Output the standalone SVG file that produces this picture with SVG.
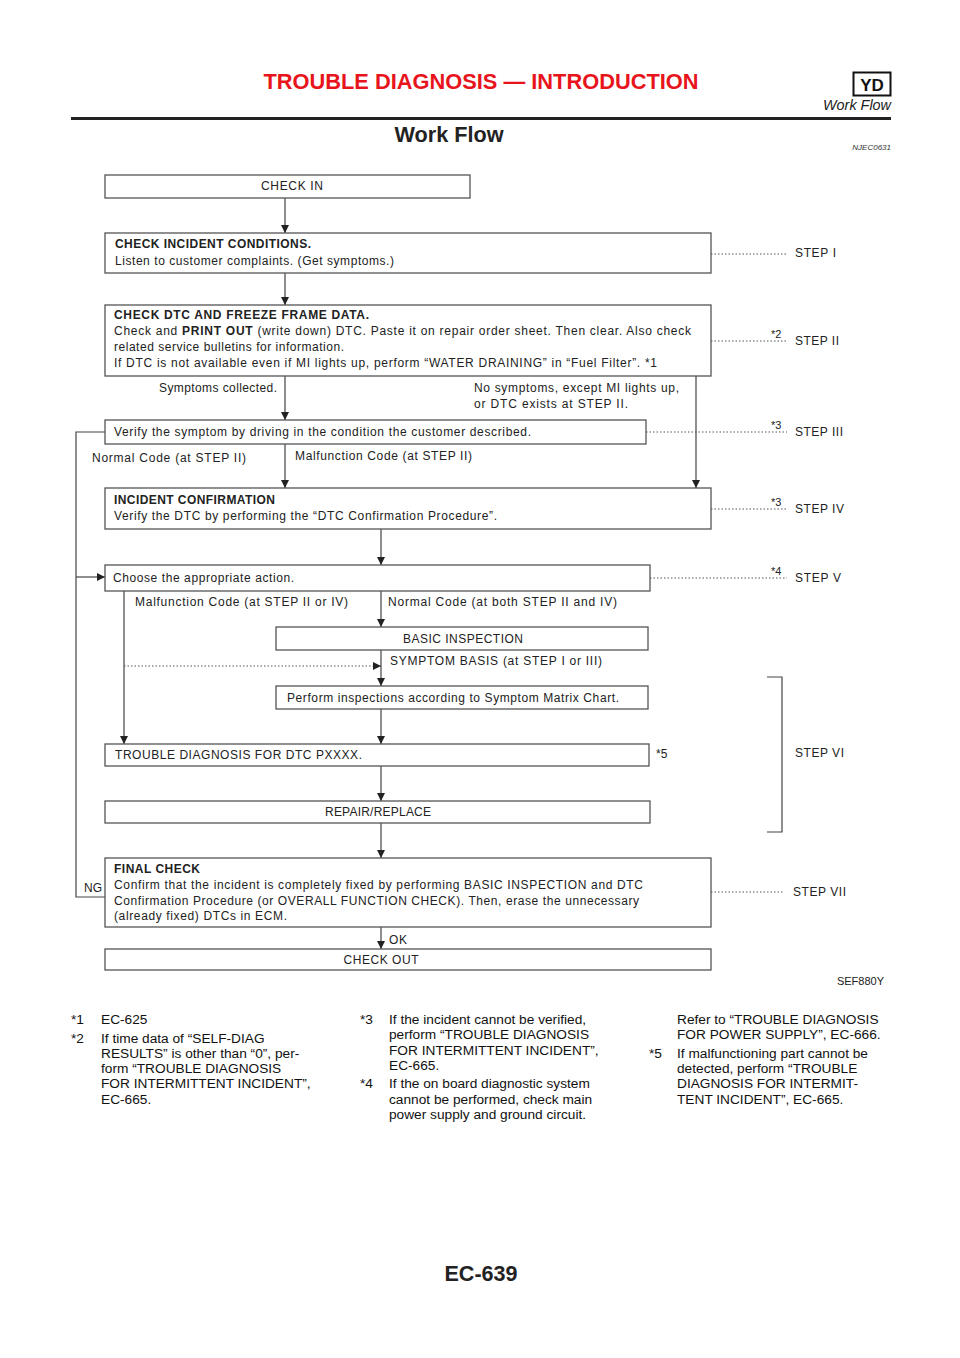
<svg xmlns="http://www.w3.org/2000/svg" width="960" height="1358" viewBox="0 0 960 1358">
<style>
  text { font-family: "Liberation Sans", Arial, sans-serif; fill: #222; }
  .t { font-size: 12px; }
  .b { font-size: 12px; font-weight: bold; }
  .fn { font-size: 13.7px; fill: #111; }
  .box { fill: #fff; stroke: #555; stroke-width: 1.3; }
  .ln { stroke: #444; stroke-width: 1.2; fill: none; }
  .dot { stroke: #555; stroke-width: 1; stroke-dasharray: 1.5 2; fill: none; }
  .sup { font-size: 11px; }
</style>
<defs>
  <marker id="ah" markerUnits="userSpaceOnUse" markerWidth="8" markerHeight="8" refX="8" refY="4" orient="auto">
    <path d="M0,0 L8,4 L0,8 z" fill="#222"/>
  </marker>
</defs>
<rect width="960" height="1358" fill="#fff"/>

<!-- header -->
<g id="header">
  <text x="481" y="89" text-anchor="middle" font-size="22" font-weight="bold" style="fill:#e8141c" textLength="435" lengthAdjust="spacingAndGlyphs">TROUBLE DIAGNOSIS — INTRODUCTION</text>
  <rect x="853.5" y="72.5" width="37" height="23" fill="none" stroke="#111" stroke-width="2"/>
  <text x="872" y="90.5" text-anchor="middle" font-size="17" font-weight="bold" style="fill:#111">YD</text>
  <text x="891" y="110" text-anchor="end" font-size="14" font-style="italic" style="fill:#222" textLength="68" lengthAdjust="spacingAndGlyphs">Work Flow</text>
  <line x1="71" y1="118.5" x2="891" y2="118.5" stroke="#222" stroke-width="3"/>
  <text x="449" y="142" text-anchor="middle" font-size="22" font-weight="bold" style="fill:#222" textLength="109" lengthAdjust="spacingAndGlyphs">Work Flow</text>
  <text x="891" y="150" text-anchor="end" font-size="8" font-style="italic" style="fill:#333">NJEC0631</text>
</g>

<!-- connectors -->
<g id="connectors">
  <line class="ln" x1="285" y1="198" x2="285" y2="233" marker-end="url(#ah)"/>
  <line class="ln" x1="285" y1="273" x2="285" y2="305" marker-end="url(#ah)"/>
  <line class="ln" x1="285" y1="376" x2="285" y2="420" marker-end="url(#ah)"/>
  <line class="ln" x1="696" y1="376" x2="696" y2="488" marker-end="url(#ah)"/>
  <line class="ln" x1="285" y1="444" x2="285" y2="488" marker-end="url(#ah)"/>
  <polyline class="ln" points="105,432 76,432 76,897 105,897"/>
  <line class="ln" x1="76" y1="577" x2="105" y2="577" marker-end="url(#ah)"/>
  <line class="ln" x1="381" y1="529" x2="381" y2="565" marker-end="url(#ah)"/>
  <line class="ln" x1="124" y1="591" x2="124" y2="744" marker-end="url(#ah)"/>
  <line class="ln" x1="381" y1="591" x2="381" y2="627" marker-end="url(#ah)"/>
  <line class="ln" x1="381" y1="650" x2="381" y2="686" marker-end="url(#ah)"/>
  <line class="dot" x1="124" y1="666" x2="381" y2="666" marker-end="url(#ah)"/>
  <line class="ln" x1="381" y1="709" x2="381" y2="744" marker-end="url(#ah)"/>
  <line class="ln" x1="381" y1="766" x2="381" y2="801" marker-end="url(#ah)"/>
  <line class="ln" x1="381" y1="823" x2="381" y2="858" marker-end="url(#ah)"/>
  <line class="ln" x1="381" y1="927" x2="381" y2="949" marker-end="url(#ah)"/>
  <!-- step leaders -->
  <line class="dot" x1="711" y1="254" x2="787" y2="254"/>
  <line class="dot" x1="711" y1="341" x2="787" y2="341"/>
  <line class="dot" x1="646" y1="432" x2="787" y2="432"/>
  <line class="dot" x1="711" y1="509" x2="787" y2="509"/>
  <line class="dot" x1="650" y1="578" x2="787" y2="578"/>
  <line class="dot" x1="711" y1="892" x2="783" y2="892"/>
  <polyline class="ln" points="767,677 782,677 782,832 767,832"/>
  <!-- labels -->
  <text class="t" x="277" y="392" text-anchor="end" textLength="118" lengthAdjust="spacing">Symptoms collected.</text>
  <text class="t" x="474" y="392" textLength="205" lengthAdjust="spacing">No symptoms, except MI lights up,</text>
  <text class="t" x="474" y="408" textLength="154" lengthAdjust="spacing">or DTC exists at STEP II.</text>
  <text class="t" x="92" y="462" textLength="154" lengthAdjust="spacing">Normal Code (at STEP II)</text>
  <text class="t" x="295" y="460" textLength="177" lengthAdjust="spacing">Malfunction Code (at STEP II)</text>
  <text class="t" x="135" y="606" textLength="213" lengthAdjust="spacing">Malfunction Code (at STEP II or IV)</text>
  <text class="t" x="388" y="606" textLength="229" lengthAdjust="spacing">Normal Code (at both STEP II and IV)</text>
  <text class="t" x="390" y="665" textLength="212" lengthAdjust="spacing">SYMPTOM BASIS (at STEP I or III)</text>
  <text class="t" x="84" y="892" textLength="18" lengthAdjust="spacing">NG</text>
  <text class="t" x="389" y="944" textLength="18" lengthAdjust="spacing">OK</text>
  <text class="t" x="656" y="758">*5</text>
</g>

<!-- steps -->
<g id="steps">
  <text class="t" x="795" y="257" textLength="41" lengthAdjust="spacing">STEP I</text>
  <text class="sup" x="771" y="338">*2</text>
  <text class="t" x="795" y="345" textLength="44" lengthAdjust="spacing">STEP II</text>
  <text class="sup" x="771" y="429">*3</text>
  <text class="t" x="795" y="436" textLength="48" lengthAdjust="spacing">STEP III</text>
  <text class="sup" x="771" y="506">*3</text>
  <text class="t" x="795" y="513" textLength="49" lengthAdjust="spacing">STEP IV</text>
  <text class="sup" x="771" y="575">*4</text>
  <text class="t" x="795" y="582" textLength="46" lengthAdjust="spacing">STEP V</text>
  <text class="t" x="795" y="757" textLength="49" lengthAdjust="spacing">STEP VI</text>
  <text class="t" x="793" y="896" textLength="53" lengthAdjust="spacing">STEP VII</text>
</g>

<g id="check-in">
  <rect class="box" x="105" y="175" width="365" height="23"/>
  <text class="t" x="292" y="190" text-anchor="middle" textLength="62" lengthAdjust="spacing">CHECK IN</text>
</g>

<g id="incident-conditions">
  <rect class="box" x="105" y="233" width="606" height="40"/>
  <text class="b" x="115" y="248" textLength="196" lengthAdjust="spacing">CHECK INCIDENT CONDITIONS.</text>
  <text class="t" x="115" y="265" textLength="279" lengthAdjust="spacing">Listen to customer complaints. (Get symptoms.)</text>
</g>

<g id="check-dtc">
  <rect class="box" x="105" y="305" width="606" height="71"/>
  <text class="b" x="114" y="319" textLength="255" lengthAdjust="spacing">CHECK DTC AND FREEZE FRAME DATA.</text>
  <text class="t" x="114" y="335" textLength="577" lengthAdjust="spacing">Check and <tspan font-weight="bold">PRINT OUT</tspan> (write down) DTC. Paste it on repair order sheet. Then clear. Also check</text>
  <text class="t" x="114" y="351" textLength="230" lengthAdjust="spacing">related service bulletins for information.</text>
  <text class="t" x="114" y="367" textLength="543" lengthAdjust="spacing">If DTC is not available even if MI lights up, perform “WATER DRAINING” in “Fuel Filter”. *1</text>
</g>

<g id="verify-symptom">
  <rect class="box" x="105" y="420" width="541" height="24"/>
  <text class="t" x="114" y="436" textLength="417" lengthAdjust="spacing">Verify the symptom by driving in the condition the customer described.</text>
</g>

<g id="incident-confirmation">
  <rect class="box" x="105" y="488" width="606" height="41"/>
  <text class="b" x="114" y="504" textLength="161" lengthAdjust="spacing">INCIDENT CONFIRMATION</text>
  <text class="t" x="114" y="520" textLength="383" lengthAdjust="spacing">Verify the DTC by performing the “DTC Confirmation Procedure”.</text>
</g>

<g id="choose-action">
  <rect class="box" x="105" y="565" width="545" height="26"/>
  <text class="t" x="113" y="582" textLength="181" lengthAdjust="spacing">Choose the appropriate action.</text>
</g>

<g id="basic-inspection">
  <rect class="box" x="276" y="627" width="372" height="23"/>
  <text class="t" x="463" y="643" text-anchor="middle" textLength="120" lengthAdjust="spacing">BASIC INSPECTION</text>
</g>

<g id="symptom-matrix">
  <rect class="box" x="276" y="686" width="372" height="23"/>
  <text class="t" x="287" y="702" textLength="332" lengthAdjust="spacing">Perform inspections according to Symptom Matrix Chart.</text>
</g>

<g id="trouble-diagnosis">
  <rect class="box" x="105" y="744" width="544" height="22"/>
  <text class="t" x="115" y="759" textLength="247" lengthAdjust="spacing">TROUBLE DIAGNOSIS FOR DTC PXXXX.</text>
</g>

<g id="repair-replace">
  <rect class="box" x="105" y="801" width="545" height="22"/>
  <text class="t" x="378" y="816" text-anchor="middle" textLength="106" lengthAdjust="spacing">REPAIR/REPLACE</text>
</g>

<g id="final-check">
  <rect class="box" x="105" y="858" width="606" height="69"/>
  <text class="b" x="114" y="873" textLength="86" lengthAdjust="spacing">FINAL CHECK</text>
  <text class="t" x="114" y="889" textLength="529" lengthAdjust="spacing">Confirm that the incident is completely fixed by performing BASIC INSPECTION and DTC</text>
  <text class="t" x="114" y="905" textLength="525" lengthAdjust="spacing">Confirmation Procedure (or OVERALL FUNCTION CHECK). Then, erase the unnecessary</text>
  <text class="t" x="114" y="920" textLength="173" lengthAdjust="spacing">(already fixed) DTCs in ECM.</text>
</g>

<g id="check-out">
  <rect class="box" x="105" y="949" width="606" height="21"/>
  <text class="t" x="381" y="964" text-anchor="middle" textLength="75" lengthAdjust="spacing">CHECK OUT</text>
</g>

<text x="884" y="985" text-anchor="end" font-size="11" style="fill:#222">SEF880Y</text>

<!-- footnotes -->
<g id="footnotes">
  <text class="fn" x="71" y="1024">*1</text>
  <text class="fn" x="101" y="1024">EC-625</text>
  <text class="fn" x="71" y="1043">*2</text>
  <text class="fn" x="101" y="1043">If time data of “SELF-DIAG</text>
  <text class="fn" x="101" y="1058">RESULTS” is other than “0”, per-</text>
  <text class="fn" x="101" y="1073">form “TROUBLE DIAGNOSIS</text>
  <text class="fn" x="101" y="1088">FOR INTERMITTENT INCIDENT”,</text>
  <text class="fn" x="101" y="1104">EC-665.</text>

  <text class="fn" x="360" y="1024">*3</text>
  <text class="fn" x="389" y="1024">If the incident cannot be verified,</text>
  <text class="fn" x="389" y="1039">perform “TROUBLE DIAGNOSIS</text>
  <text class="fn" x="389" y="1055">FOR INTERMITTENT INCIDENT”,</text>
  <text class="fn" x="389" y="1070">EC-665.</text>
  <text class="fn" x="360" y="1088">*4</text>
  <text class="fn" x="389" y="1088">If the on board diagnostic system</text>
  <text class="fn" x="389" y="1104">cannot be performed, check main</text>
  <text class="fn" x="389" y="1119">power supply and ground circuit.</text>

  <text class="fn" x="677" y="1024">Refer to “TROUBLE DIAGNOSIS</text>
  <text class="fn" x="677" y="1039">FOR POWER SUPPLY”, EC-666.</text>
  <text class="fn" x="649" y="1058">*5</text>
  <text class="fn" x="677" y="1058">If malfunctioning part cannot be</text>
  <text class="fn" x="677" y="1073">detected, perform “TROUBLE</text>
  <text class="fn" x="677" y="1088">DIAGNOSIS FOR INTERMIT-</text>
  <text class="fn" x="677" y="1104">TENT INCIDENT”, EC-665.</text>
</g>

<text x="481" y="1281" text-anchor="middle" font-size="22" font-weight="bold" style="fill:#222" textLength="73" lengthAdjust="spacingAndGlyphs">EC-639</text>
</svg>
